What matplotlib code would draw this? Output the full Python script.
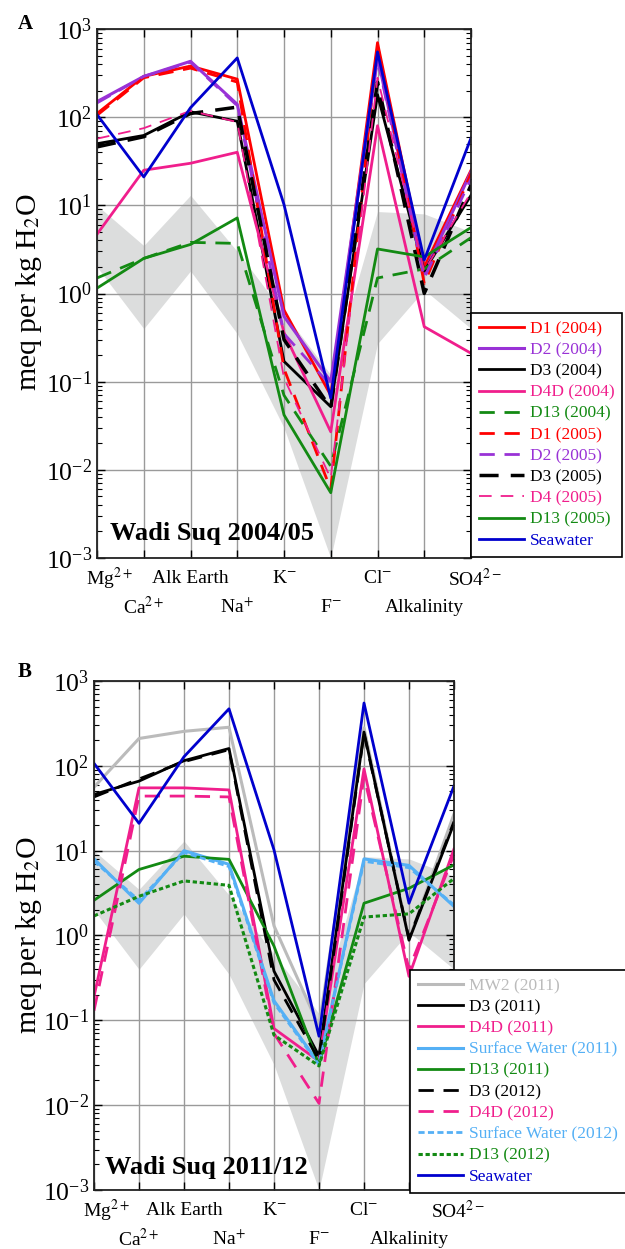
import matplotlib
matplotlib.use("Agg")
import matplotlib.pyplot as plt
import numpy as np

plt.rcParams['font.family'] = ['Liberation Serif', 'DejaVu Serif']
plt.rcParams['mathtext.fontset'] = 'stix'

# ---------------- data ----------------
categories = ['Mg', 'Ca', 'AlkEarth', 'Na', 'K', 'F', 'Cl', 'Alkalinity', 'SO4']
row1_labels = ['Mg$^{2+}$', 'Alk Earth', 'K$^{-}$', 'Cl$^{-}$', 'SO4$^{2-}$']
row1_pos = [0, 2, 4, 6, 8]
row2_labels = ['Ca$^{2+}$', 'Na$^{+}$', 'F$^{-}$', 'Alkalinity']
row2_pos = [1, 3, 5, 7]

band_upper = [10, 3.5, 13, 3.0, 0.6, 0.12, 8.5, 8.0, 5.0]
band_lower = [2.0, 0.4, 1.8, 0.35, 0.03, 0.001, 0.27, 1.1, 0.4]

# Panel A (2004/05)
d1_2004 = [110, 290, 380, 270, 0.65, 0.07, 700, 2.0, 25]
d2_2004 = [150, 290, 430, 140, 0.55, 0.10, 480, 1.7, 24]
d3_2004 = [50, 62, 115, 90, 0.17, 0.052, 180, 1.8, 13]
d4d_2004 = [4.7, 25, 30, 40, 0.36, 0.027, 80, 0.42, 0.21]
d13_2004 = [1.5, 2.5, 3.8, 3.7, 0.07, 0.011, 1.5, 1.9, 4.3]
d1_2005 = [105, 280, 360, 250, 0.14, 0.006, 650, 1.3, 23]
d2_2005 = [145, 290, 420, 135, 0.35, 0.09, 450, 1.5, 20]
d3_2005 = [46, 60, 110, 130, 0.30, 0.05, 250, 1.0, 17]
d4_2005 = [57, 75, 118, 88, 0.11, 0.008, 280, 1.8, 14]
d13_2005 = [1.15, 2.5, 3.6, 7.2, 0.042, 0.0055, 3.2, 2.6, 5.6]
seawater = [107, 21, 128, 470, 10.2, 0.065, 550, 2.4, 58]

# Panel B (2011/12)
mw2_2011 = [56, 210, 255, 285, 1.3, 0.085, 280, 0.9, 27]
d3_2011 = [46, 66, 115, 160, 0.38, 0.038, 250, 0.88, 21]
d4d_2011 = [0.19, 55, 55, 52, 0.08, 0.033, 92, 0.33, 10.5]
sw_2011 = [8, 2.4, 10, 6.9, 0.17, 0.031, 8, 6.7, 2.2]
d13_2011 = [2.6, 6.0, 8.6, 7.9, 0.75, 0.03, 2.4, 3.6, 6.8]
d3_2012 = [43, 70, 112, 155, 0.30, 0.034, 240, 0.92, 22]
d4d_2012 = [0.13, 44, 44, 43, 0.07, 0.0105, 75, 0.40, 9]
sw_2012 = [7.5, 2.6, 9.5, 6.5, 0.16, 0.030, 7.5, 6.3, 2.3]
d13_2012 = [1.7, 2.9, 4.4, 3.9, 0.067, 0.029, 1.65, 1.8, 4.7]

RED = '#ff0000'
PURPLE = '#9932d6'
BLACK = '#000000'
PINK = '#f01e8c'
GREEN = '#138a13'
BLUE = '#0000cd'
LBLUE = '#55b0f5'
LGRAY = '#bbbbbb'
BAND = '#dcdddd'

LONG = (5.5, 3.5)

series_a = [
    ('D1 (2004)', d1_2004, RED, '-', 2.0),
    ('D2 (2004)', d2_2004, PURPLE, '-', 2.2),
    ('D3 (2004)', d3_2004, BLACK, '-', 2.0),
    ('D4D (2004)', d4d_2004, PINK, '-', 2.0),
    ('D13 (2004)', d13_2004, GREEN, LONG, 2.0),
    ('D1 (2005)', d1_2005, RED, LONG, 2.0),
    ('D2 (2005)', d2_2005, PURPLE, LONG, 2.0),
    ('D3 (2005)', d3_2005, BLACK, LONG, 2.5),
    ('D4 (2005)', d4_2005, PINK, (7, 5), 1.3),
    ('D13 (2005)', d13_2005, GREEN, '-', 2.0),
    ('Seawater', seawater, BLUE, '-', 2.0),
]

series_b = [
    ('MW2 (2011)', mw2_2011, LGRAY, '-', 2.2),
    ('D3 (2011)', d3_2011, BLACK, '-', 2.0),
    ('D4D (2011)', d4d_2011, PINK, '-', 2.0),
    ('Surface Water (2011)', sw_2011, LBLUE, '-', 2.2),
    ('D13 (2011)', d13_2011, GREEN, '-', 2.0),
    ('D3 (2012)', d3_2012, BLACK, LONG, 2.0),
    ('D4D (2012)', d4d_2012, PINK, LONG, 2.0),
    ('Surface Water (2012)', sw_2012, LBLUE, (2.2, 1.2), 2.0),
    ('D13 (2012)', d13_2012, GREEN, (1.4, 0.9), 2.2),
    ('Seawater', seawater, BLUE, '-', 2.0),
]

W, H = 625, 1249
fig = plt.figure(figsize=(W / 100, H / 100), dpi=100)


def px_axes(l, t, r, b):
    return fig.add_axes([l / W, 1 - b / H, (r - l) / W, (b - t) / H])


def draw_panel(ax, series, title, leg_anchor, letter, letter_xy, title_xy):
    x = np.arange(len(categories))
    ax.fill_between(x, band_lower, band_upper, color=BAND, lw=0, zorder=1)
    handles = []
    for label, vals, col, ls, lw in series:
        if isinstance(ls, tuple):
            ln, = ax.plot(x, vals, color=col, lw=lw, dashes=ls, zorder=2)
        else:
            ln, = ax.plot(x, vals, color=col, lw=lw, linestyle=ls, zorder=2)
        handles.append(ln)
    ax.set_yscale('log')
    ax.set_ylim(1e-3, 1e3)
    ax.set_xlim(0, 8)
    ax.set_xticks(x)
    ax.set_xticklabels([''] * len(x))
    ax.set_axisbelow('line')
    ax.grid(True, which='major', color='#9a9a9a', lw=1.0)
    ax.tick_params(which='both', direction='in', left=True, right=True,
                   top=True, bottom=True, labelsize=18.5)
    ax.tick_params(which='major', length=6, width=1.0)
    ax.tick_params(which='minor', length=3.5, width=0.8)
    for s in ax.spines.values():
        s.set_linewidth(1.3)
        s.set_color('#222222')
    shifts = {0: 9, 8: 3}
    for lab, p in zip(row1_labels, row1_pos):
        ax.annotate(lab, xy=(p, 0), xycoords=('data', 'axes fraction'),
                    xytext=(shifts.get(p, 0), -15), textcoords='offset points',
                    ha='center', va='center', fontsize=14)
    for lab, p in zip(row2_labels, row2_pos):
        ax.annotate(lab, xy=(p, 0), xycoords=('data', 'axes fraction'),
                    xytext=(0, -35.5), textcoords='offset points',
                    ha='center', va='center', fontsize=14)
    ax.text(title_xy[0], title_xy[1], title, transform=ax.transAxes,
            fontsize=19, fontweight='bold', ha='left', va='center')
    leg = ax.legend(handles, [s[0] for s in series], loc='upper left',
                    bbox_to_anchor=leg_anchor, borderaxespad=0,
                    fontsize=12.5, frameon=True, fancybox=False,
                    edgecolor='black', framealpha=1, labelspacing=0.29,
                    handlelength=2.6, handletextpad=0.35, borderpad=0.45)
    leg.get_frame().set_linewidth(1.2)
    for txt, s in zip(leg.get_texts(), series):
        txt.set_color(s[2])
    fig.text(letter_xy[0] / W, 1 - letter_xy[1] / H, letter, fontsize=15,
             fontweight='bold', ha='center', va='center')


axA = px_axes(97, 29, 471, 558)
draw_panel(axA, series_a, 'Wadi Suq 2004/05', (1.0, 0.463), 'A', (25, 24),
           (0.035, 0.047))
fig.text(29 / W, 1 - 292 / H, 'meq per kg H$_2$O', rotation=90,
         ha='center', va='center', fontsize=21.5)

axB = px_axes(94, 681, 454, 1190)
draw_panel(axB, series_b, 'Wadi Suq 2011/12', (0.878, 0.432), 'B', (25, 672),
           (0.03, 0.045))
fig.text(29 / W, 1 - 935 / H, 'meq per kg H$_2$O', rotation=90,
         ha='center', va='center', fontsize=21.5)

fig.savefig('out.png', dpi=100)
